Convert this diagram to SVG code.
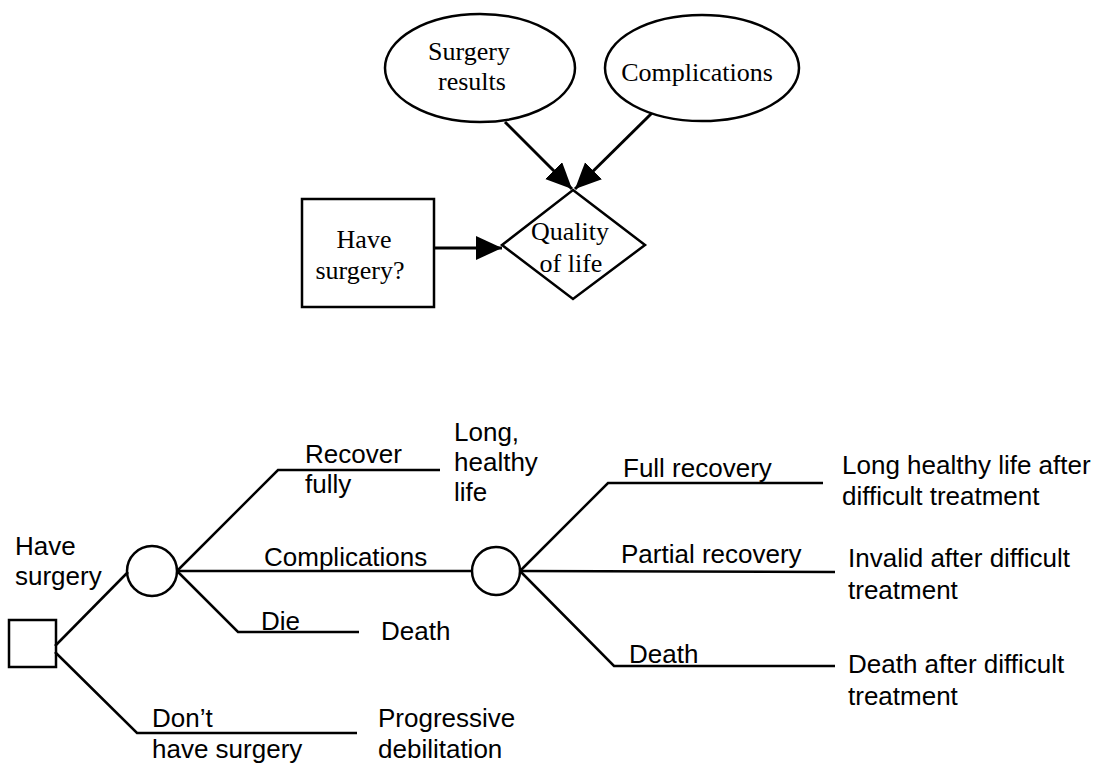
<svg xmlns="http://www.w3.org/2000/svg" width="1099" height="763" viewBox="0 0 1099 763">
<style>
.bg{fill:#fff}
.shape{fill:#fff;stroke:#000;stroke-width:2.5}
.edge{fill:none;stroke:#000;stroke-width:3}
.tree{fill:none;stroke:#000;stroke-width:2.5}
.serif{font-family:"Liberation Serif","Times New Roman",serif;font-size:26px;fill:#000}
.sans{font-family:"Liberation Sans",Arial,sans-serif;font-size:26px;fill:#000}
.mid{text-anchor:middle}
</style>
<defs>
<marker id="arrow" markerUnits="userSpaceOnUse" markerWidth="26" markerHeight="26" refX="26" refY="12" orient="auto">
<path d="M0,0 L26,12 L0,24 z" fill="#000"/>
</marker>
</defs>
<rect class="bg" x="0" y="0" width="1099" height="763"/>

<!-- Influence diagram -->
<g id="connectors-top">
<line class="edge" x1="505" y1="122" x2="572" y2="189" marker-end="url(#arrow)"/>
<line class="edge" x1="652" y1="113" x2="575" y2="189" marker-end="url(#arrow)"/>
<line class="edge" x1="434" y1="248" x2="502" y2="248" marker-end="url(#arrow)"/>
</g>
<g id="node-surgery-results">
<ellipse class="shape" cx="480" cy="68" rx="95" ry="54"/>
<text class="serif mid" x="469" y="60">Surgery</text>
<text class="serif mid" x="472" y="90">results</text>
</g>
<g id="node-complications">
<ellipse class="shape" cx="702" cy="68" rx="97" ry="53"/>
<text class="serif mid" x="697" y="81">Complications</text>
</g>
<g id="node-have-surgery">
<rect class="shape" x="302" y="199" width="132" height="108"/>
<text class="serif mid" x="364" y="248">Have</text>
<text class="serif mid" x="360" y="279">surgery?</text>
</g>
<g id="node-quality">
<polygon class="shape" points="573,190 645,245 573,299 502,245"/>
<text class="serif mid" x="570" y="240">Quality</text>
<text class="serif mid" x="571" y="272">of life</text>
</g>

<!-- Decision tree -->
<g id="connectors-tree">
<polyline class="tree" points="55,646 128,572"/>
<polyline class="tree" points="55,652 137,733 357,733"/>
<polyline class="tree" points="177,571 278,470 440,470"/>
<polyline class="tree" points="177,571 472,571"/>
<polyline class="tree" points="177,571 238,632 359,632"/>
<polyline class="tree" points="520,571 608,483 823,483"/>
<polyline class="tree" points="520,571 835,572"/>
<polyline class="tree" points="520,571 614,666 835,666"/>
</g>
<g id="node-decision">
<rect class="tree" x="9" y="620" width="47" height="47"/>
<text class="sans" x="15" y="555">Have</text>
<text class="sans" x="15" y="585">surgery</text>
</g>
<g id="node-chance1">
<circle class="tree" cx="152" cy="571" r="25"/>
</g>
<g id="node-chance2">
<circle class="tree" cx="496" cy="571" r="24"/>
</g>
<g id="labels">
<text class="sans" x="305" y="463">Recover</text>
<text class="sans" x="305" y="493">fully</text>
<text class="sans" x="454" y="441">Long,</text>
<text class="sans" x="454" y="471">healthy</text>
<text class="sans" x="454" y="501">life</text>
<text class="sans" x="264" y="566">Complications</text>
<text class="sans" x="261" y="630">Die</text>
<text class="sans" x="381" y="640">Death</text>
<text class="sans" x="152" y="727">Don’t</text>
<text class="sans" x="152" y="758">have surgery</text>
<text class="sans" x="378" y="727">Progressive</text>
<text class="sans" x="378" y="758">debilitation</text>
<text class="sans" x="623" y="477">Full recovery</text>
<text class="sans" x="842" y="474">Long healthy life after</text>
<text class="sans" x="842" y="505">difficult treatment</text>
<text class="sans" x="621" y="563">Partial recovery</text>
<text class="sans" x="848" y="567">Invalid after difficult</text>
<text class="sans" x="848" y="599">treatment</text>
<text class="sans" x="629" y="663">Death</text>
<text class="sans" x="848" y="673">Death after difficult</text>
<text class="sans" x="848" y="705">treatment</text>
</g>
</svg>
